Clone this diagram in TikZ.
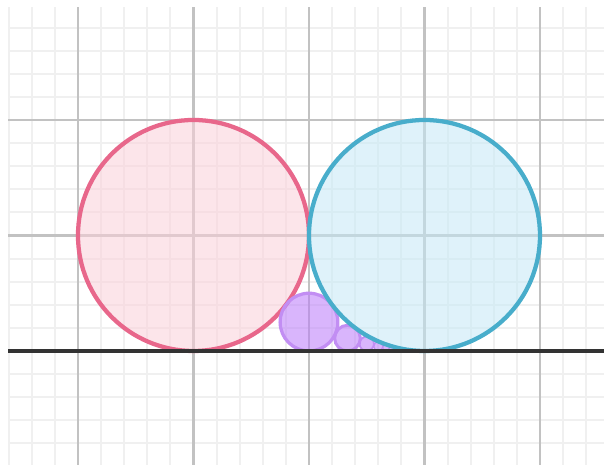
\documentclass[tikz,border=0pt]{standalone}
\begin{document}
\begin{tikzpicture}[x=1cm,y=1cm,
  minorgrid/.style={draw=black!6,line width=0.5pt},
  majorgrid/.style={draw=black!24,line width=0.6pt},
  pinkc/.style={draw=pinkline,fill=pinkfill,fill opacity=0.55,line width=1.05pt},
  bluec/.style={draw=blueline,fill=bluefill,fill opacity=0.55,line width=1.05pt},
  purplec/.style={draw=purpleline,fill=purplefill,fill opacity=0.55,line width=0.8pt},
  ground/.style={draw=black!80,line width=0.95pt}]
\definecolor{pinkline}{HTML}{E8678B}
\definecolor{pinkfill}{HTML}{FBD0D9}
\definecolor{blueline}{HTML}{48ADCB}
\definecolor{bluefill}{HTML}{C5E9F6}
\definecolor{purpleline}{HTML}{C28EF3}
\definecolor{purplefill}{HTML}{BA7AFA}
\useasboundingbox[fill=white] (-2.67532,-0.98701) rectangle (2.55411,3.03896);
\begin{scope}
\clip (-2.606,-0.987) rectangle (2.555,2.978);
\foreach \i in {-14,...,13} \draw[minorgrid] (\i*0.2,-1.2) -- (\i*0.2,3.2);
\foreach \j in {-5,...,15} \draw[minorgrid] (-2.8,\j*0.2) -- (2.8,\j*0.2);
\foreach \i in {-2,...,2} \draw[majorgrid] (\i,-1.2) -- (\i,3.2);
\foreach \j in {-1,...,3} \draw[majorgrid] (-2.8,\j) -- (2.8,\j);
\end{scope}
\path[pinkc] (-1,1) circle (1);
\foreach \n in {2,...,14} {
  \pgfmathsetmacro{\r}{1/(\n*\n)}
  \pgfmathsetmacro{\cx}{1-2/\n}
  \path[purplec,line width={min(0.8,0.08+\r*6)*1pt}] (\cx,\r) circle (\r);
}
\path[bluec] (1,1) circle (1);
\draw[ground] (-2.606,0) -- (2.56,0);
\end{tikzpicture}
\end{document}
